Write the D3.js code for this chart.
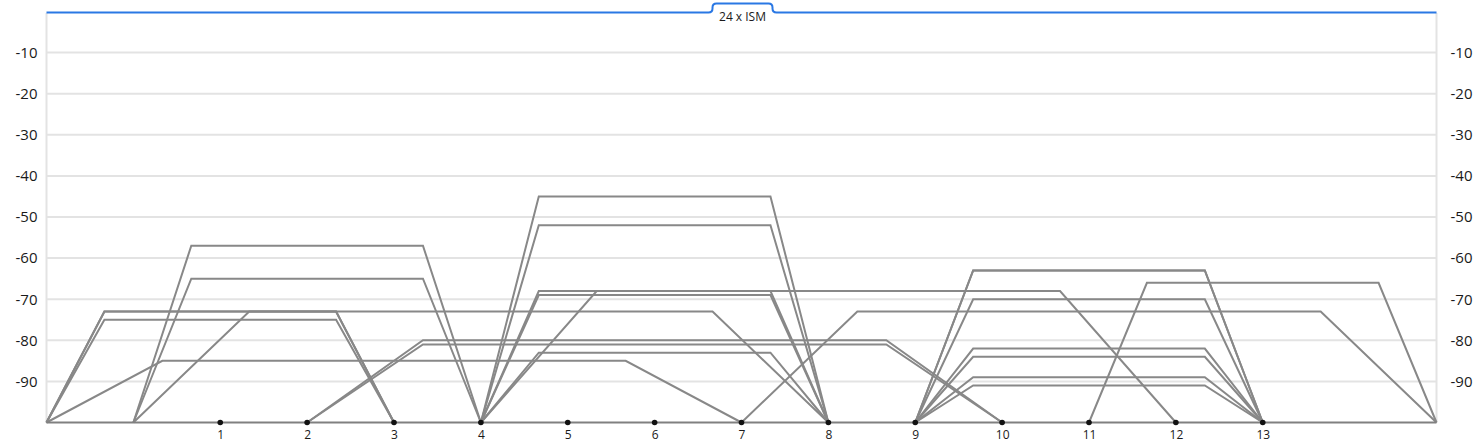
<!DOCTYPE html>
<html>
<head>
<meta charset="utf-8">
<script src="https://cdn.jsdelivr.net/npm/d3@7"></script>
<style>
  html, body { margin: 0; padding: 0; background: #fff; }
  svg { display: block; }
  text { font-family: "Open Sans", "Noto Sans", sans-serif; fill: #1a1a1a; }
</style>
</head>
<body>
<svg id="chart" width="1479" height="448"></svg>
<script>
// ---- data ----
const bandLabel = "24 x ISM";
const channels = [1, 2, 3, 4, 5, 6, 7, 8, 9, 10, 11, 12, 13];
const yTicks = [-10, -20, -30, -40, -50, -60, -70, -80, -90];
// networks: centre channel, bandwidth (MHz), signal level (dBm)
const netCenter = [1, 1, 1, 3, 2, 2, 4, 6, 6, 6, 6, 6, 6, 6, 8, 11, 11, 11, 11, 11, 11, 11, 11, 13];
const netWidth  = [20, 20, 20, 40, 20, 20, 40, 40, 40, 20, 20, 20, 20, 20, 40, 40, 20, 20, 20, 20, 20, 20, 20, 20];
const netLevel  = [-73, -73, -75, -85, -57, -65, -73, -80, -81, -45, -52, -68, -69, -83, -68, -73, -63, -63, -70, -82, -84, -89, -91, -66];

// ---- layout ----
const mL = 46.5, mR = 1436.5, mT = 11.5, mB = 422.5;
const svg = d3.select("#chart");

const x = d3.scaleLinear().domain([-1, 15]).range([mL, mR]);
const y = d3.scaleLinear().domain([-100, 0]).range([mB, mT]);

// gridlines
svg.append("g").selectAll("line").data(yTicks).join("line")
  .attr("x1", mL).attr("x2", mR)
  .attr("y1", d => y(d)).attr("y2", d => y(d))
  .attr("stroke", "#e3e3e3").attr("stroke-width", 2);

// side borders
svg.append("line").attr("x1", mL).attr("x2", mL).attr("y1", 13).attr("y2", mB)
  .attr("stroke", "#e3e3e3").attr("stroke-width", 2);
svg.append("line").attr("x1", mR).attr("x2", mR).attr("y1", 13).attr("y2", mB)
  .attr("stroke", "#e3e3e3").attr("stroke-width", 2);

// y axes (left and right)
const fmtY = d => String(d);   // plain hyphen-minus as in the reference
const yAxisL = d3.axisLeft(y).tickValues(yTicks).tickSize(0).tickPadding(9).tickFormat(fmtY);
const gL = svg.append("g").attr("transform", `translate(${mL},0)`).call(yAxisL);
const yAxisR = d3.axisRight(y).tickValues(yTicks).tickSize(0).tickPadding(14).tickFormat(fmtY);
const gR = svg.append("g").attr("transform", `translate(${mR},0)`).call(yAxisR);
[gL, gR].forEach(g => {
  g.select(".domain").remove();
  g.selectAll("text").attr("font-size", 15).attr("fill", "#1a1a1a")
    .style("font-family", '"Open Sans", sans-serif');
});

// network trapezoids
const line = d3.line().x(d => x(d[0])).y(d => y(d[1]));
const nets = netCenter.map((c, i) => {
  const h = netWidth[i] / 10;      // half width in channels
  const r = netWidth[i] / 30;      // ramp in channels
  const L = netLevel[i];
  return [[c - h, -100], [c - h + r, L], [c + h - r, L], [c + h, -100]];
});
svg.append("g").selectAll("path").data(nets).join("path")
  .attr("d", line)
  .attr("fill", "none")
  .attr("stroke", "#888888")
  .attr("stroke-width", 2)
  .attr("stroke-linejoin", "miter");

// baseline
svg.append("line").attr("x1", mL).attr("x2", mR)
  .attr("y1", y(-100)).attr("y2", y(-100))
  .attr("stroke", "#808080").attr("stroke-width", 2);

// x axis: channel dots + labels
const xAxis = d3.axisBottom(x).tickValues(channels).tickSize(0).tickPadding(8)
  .tickFormat(d3.format("d"));
const gX = svg.append("g").attr("transform", `translate(0,${y(-100)})`).call(xAxis);
gX.select(".domain").remove();
gX.selectAll("text").attr("font-size", 12).attr("fill", "#1a1a1a")
  .style("font-family", '"Open Sans", sans-serif');
svg.append("g").selectAll("circle").data(channels).join("circle")
  .attr("cx", d => x(d)).attr("cy", y(-100)).attr("r", 2.8)
  .attr("fill", "#111");

// top blue line with tab
const tabL = 712.5, tabR = 772.5, lineY = 12.5, tabTop = 3.5, rad = 4;
const tabPath = d3.path();
tabPath.moveTo(mL, lineY);
tabPath.lineTo(tabL - rad, lineY);
tabPath.quadraticCurveTo(tabL, lineY, tabL, lineY - rad);
tabPath.lineTo(tabL, tabTop + rad);
tabPath.quadraticCurveTo(tabL, tabTop, tabL + rad, tabTop);
tabPath.lineTo(tabR - rad, tabTop);
tabPath.quadraticCurveTo(tabR, tabTop, tabR, tabTop + rad);
tabPath.lineTo(tabR, lineY - rad);
tabPath.quadraticCurveTo(tabR, lineY, tabR + rad, lineY);
tabPath.lineTo(mR, lineY);
svg.append("path").attr("d", tabPath.toString())
  .attr("fill", "none").attr("stroke", "#2a78e4").attr("stroke-width", 2);
svg.append("text").attr("x", (tabL + tabR) / 2).attr("y", 21)
  .attr("text-anchor", "middle").attr("font-size", 12).attr("fill", "#1a1a1a")
  .text(bandLabel);
</script>
</body>
</html>
